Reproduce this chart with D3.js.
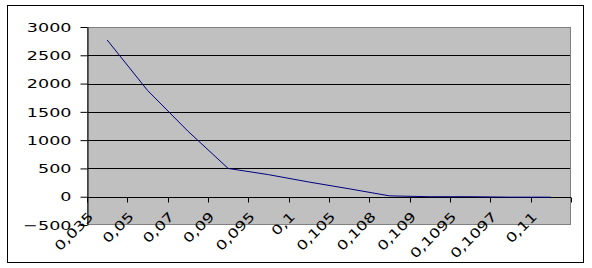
<!DOCTYPE html>
<html>
<head>
<meta charset="utf-8">
<script src="https://cdn.jsdelivr.net/npm/d3@7"></script>
<style>
  body { margin: 0; background: #fff; }
  text { font-family: "DejaVu Sans", sans-serif; fill: #000; }
</style>
</head>
<body>
<script>
var categories = ['0,035','0,05','0,07','0,09','0,095','0,1','0,105','0,108','0,109','0,1095','0,1097','0,11'];
var values = [2770, 1880, 1160, 500, 390, 260, 140, 15, 0, 0, -8, -8];
var yTicks = [-500, 0, 500, 1000, 1500, 2000, 2500, 3000];

var svg = d3.select('body').append('svg').attr('width', 592).attr('height', 268);

// chart frame
svg.append('rect')
  .attr('x', 7.5).attr('y', 5.5).attr('width', 576).attr('height', 257)
  .attr('fill', '#fff').attr('stroke', '#000');

var x = d3.scaleBand().domain(categories).range([87, 571]).padding(0);
var y = d3.scaleLinear().domain([-500, 3000]).range([225, 27]);

// plot area
svg.append('rect')
  .attr('x', 87).attr('y', 27).attr('width', 484).attr('height', 198)
  .attr('fill', '#c0c0c0');

// gridlines
svg.selectAll('line.grid')
  .data(yTicks.filter(d => d > 0 && d < 3000))
  .enter().append('line')
    .attr('class', 'grid')
    .attr('x1', 87).attr('x2', 571)
    .attr('y1', d => Math.round(y(d)) + 0.5).attr('y2', d => Math.round(y(d)) + 0.5)
    .attr('stroke', '#000');

svg.append('rect')
  .attr('x', 87.5).attr('y', 27.5).attr('width', 483).attr('height', 197)
  .attr('fill', 'none').attr('stroke', '#808080');

// y axis
var yAxis = svg.append('g')
  .attr('transform', 'translate(87.5,0)')
  .call(d3.axisLeft(y).tickValues(yTicks).tickSize(7).tickPadding(9).tickSizeOuter(0).tickFormat(d3.format('d')));
yAxis.select('.domain').attr('stroke', '#000');
yAxis.selectAll('line').attr('stroke', '#000');
yAxis.selectAll('text')
  .attr('font-size', 13)
  .attr('x', -16 / 1.35)
  .attr('transform', 'scale(1.35,1)');

// x axis at zero
var y0 = Math.round(y(0)) + 0.5;
svg.append('line')
  .attr('x1', 87).attr('x2', 571).attr('y1', y0).attr('y2', y0)
  .attr('stroke', '#000');
var edges = categories.map(c => x(c)).concat([x.range()[1]]);
svg.selectAll('line.xtick')
  .data(edges)
  .enter().append('line')
    .attr('class', 'xtick')
    .attr('x1', d => Math.round(d) + 0.5).attr('x2', d => Math.round(d) + 0.5)
    .attr('y1', y0).attr('y2', y0 + 5)
    .attr('stroke', '#000');

svg.selectAll('text.xlab')
  .data(categories)
  .enter().append('text')
    .attr('class', 'xlab')
    .attr('font-size', 13)
    .attr('text-anchor', 'end')
    .attr('transform', d => 'translate(' + (x(d) + x.bandwidth() / 2 - 13) + ',' + (y0 + 20) + ') rotate(-45) scale(1.3,1)')
    .text(d => d);

// series
var line = d3.line()
  .x((d, i) => x(categories[i]) + x.bandwidth() / 2)
  .y(d => y(d));

svg.append('path')
  .attr('d', line(values))
  .attr('fill', 'none')
  .attr('stroke', '#000080')
  .attr('stroke-width', 1);
</script>
</body>
</html>
